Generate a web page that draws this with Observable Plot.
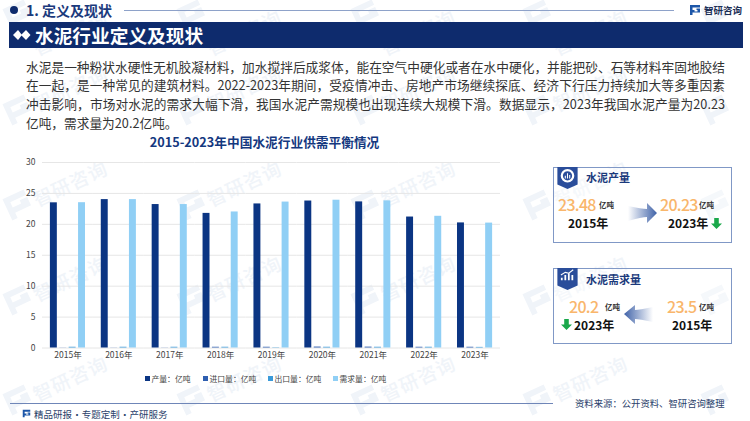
<!DOCTYPE html>
<html lang="zh"><head><meta charset="utf-8">
<script src="https://cdn.jsdelivr.net/npm/d3@7"></script>
<script src="https://cdn.jsdelivr.net/npm/@observablehq/plot@0.6"></script>
<style>
html,body{margin:0;padding:0;background:#fff}
#page{position:relative;width:750px;height:421px;overflow:hidden;font-family:"Noto Sans CJK SC","Noto Sans",sans-serif;color:#333}
.a{position:absolute;white-space:nowrap}
.wm{position:absolute;color:#f0f4f9;font-size:19px;line-height:24px;font-weight:500;letter-spacing:1px;transform:rotate(-25deg);white-space:nowrap}
.card{position:absolute;left:553px;width:177px;height:74px;border:1.2px solid #8098c6;background:rgba(255,255,255,.35)}
.num{color:#f9b66b;font-weight:500;font-size:16px;letter-spacing:-.7px;line-height:18px}
.unit{color:#333;font-weight:700;font-size:7.500px;line-height:10px}
.yr{color:#111;font-weight:700;font-size:12px;line-height:16px}
.leg{position:absolute;top:373px;font-size:7.800px;line-height:12px;color:#444;white-space:nowrap}
.leg i{display:inline-block;width:5px;height:5px;margin-right:1.500px;vertical-align:1px}
</style></head><body><div id="page"></div>
<script>
const years = ["2015年","2016年","2017年","2018年","2019年","2020年","2021年","2022年","2023年"];
const seriesNames = ["产量：亿吨","进口量：亿吨","出口量：亿吨","需求量：亿吨"];
const seriesColors = ["#0b3583","#2f5fb0","#3a9ad9","#90cff5"];
const production = [23.48,24.0,23.2,21.77,23.3,23.77,23.63,21.18,20.23];
const imports = [0.02,0.02,0.02,0.12,0.12,0.15,0.14,0.12,0.12];
const exports_ = [0.12,0.12,0.12,0.12,0.05,0.12,0.12,0.12,0.1];
const demand = [23.5,24.0,23.2,22.0,23.6,23.9,23.8,21.3,20.2];
const yTicks = [0,5,10,15,20,25,30];
const bodyLines = [
"水泥是一种粉状水硬性无机胶凝材料，加水搅拌后成浆体，能在空气中硬化或者在水中硬化，并能把砂、石等材料牢固地胶结",
"在一起，是一种常见的建筑材料。2022-2023年期间，受疫情冲击、房地产市场继续探底、经济下行压力持续加大等多重因素",
"冲击影响，市场对水泥的需求大幅下滑，我国水泥产需规模也出现连续大规模下滑。数据显示，2023年我国水泥产量为20.23",
"亿吨，需求量为20.2亿吨。"];

const page = document.getElementById("page");
function add(html){const t=document.createElement("template");t.innerHTML=html.trim();const n=t.content.firstChild;page.appendChild(n);return n;}
const logo=(x,y,s,c)=>`<svg class="a" style="left:${x}px;top:${y}px" width="${s}" height="${s}" viewBox="0 0 24 24"><path d="M2 2h20v5H7v5h8v-3h7v8H7v5H2z" fill="${c}"/><path d="M11 12h6v3h-6z" fill="#fff"/></svg>`;

// watermark
[15,110,205,300,400].forEach((cy,j)=>{
  [18,192,366,538,716].forEach((cx,i)=>{
    add(`<svg class="a" style="left:${cx-14}px;top:${cy-14}px;transform:rotate(-25deg)" width="28" height="28" viewBox="0 0 24 24"><path d="M2 2h20v5H7v5h8v-3h7v8H7v5H2z" fill="#f0f4f9"/></svg>`);
    if(i<4) add(`<div class="wm" style="left:${cx+12}px;top:${Math.max(cy-34,20)}px">智研咨询</div>`);
  });
});

// header
add(`<svg class="a" style="left:9px;top:5px" width="10" height="10"><circle cx="5" cy="5" r="4" fill="#0e2b6d"/></svg>`);
add(`<div class="a" style="left:26px;top:1px;font-size:14px;line-height:19px;font-weight:700;color:#1b3a7c">1. 定义及现状</div>`);
add(`<div class="a" style="left:124px;top:9.5px;width:550px;height:1px;background:#8ea2c9"></div>`);
page.insertAdjacentHTML("beforeend",logo(689,4,12,"#1c56a8"));
add(`<div class="a" style="left:704px;top:2px;font-size:9.500px;line-height:16px;font-weight:700;color:#1c2e55">智研咨询</div>`);
add(`<div class="a" style="left:9px;top:22px;width:734px;height:26px;background:#0e2b6d"></div>`);
add(`<svg class="a" style="left:13px;top:30px" width="18" height="10"><path d="M0 5 5 0 9 5 5 10z" fill="#fff"/><path d="M8 5 13 0 17.500 5 13 10z" fill="#fff"/></svg>`);
add(`<div class="a" style="left:35px;top:22px;font-size:18.700px;line-height:26px;font-weight:700;color:#fff">水泥行业定义及现状</div>`);

// body text
bodyLines.forEach((l,i)=>add(`<div class="a" style="left:26px;top:${56.500+i*18.7}px;${i<3?"width:699px;white-space:normal;text-align:justify;text-align-last:justify;":""}font-size:12.700px;line-height:19px;color:#333">${l}</div>`));

// chart title
add(`<div class="a" style="left:0;width:529px;text-align:center;top:133px;font-size:12.700px;line-height:18px;font-weight:700;color:#14387f">2015-2023年中国水泥行业供需平衡情况</div>`);

// chart
const rows = years.flatMap((y,i)=>[production,imports,exports_,demand].map((arr,k)=>({year:y,series:seriesNames[k],value:arr[i]})));
const chart = Plot.plot({
  width:510,height:214.5,marginLeft:42,marginRight:10,marginTop:7,marginBottom:22,
  style:{background:"transparent",fontFamily:'"Noto Sans CJK SC",sans-serif',fontSize:"8.500px",color:"#444"},
  fx:{domain:years,padding:0,label:null,axis:null,round:false},
  x:{domain:seriesNames,axis:null,paddingInner:0.26,paddingOuter:0.84,round:false},
  y:{domain:[0,30],ticks:yTicks,label:null},
  color:{domain:seriesNames,range:seriesColors},
  marks:[
    Plot.ruleY(yTicks,{stroke:"#e6e6e6",strokeWidth:1}),
    Plot.barY(rows,{fx:"year",x:"series",y:"value",fill:"series"}),
    Plot.axisY({ticks:yTicks,tickSize:0,tickPadding:7,label:null,anchor:"left",fontSize:8.500,facetAnchor:"left"}),
    Plot.axisFx({domain:years,anchor:"bottom",tickSize:0,tickPadding:4,label:null,fontSize:8.500})
  ]
});
chart.style.cssText+=";position:absolute;left:0;top:155px;";
page.appendChild(chart);

// legend
[[145,0],[203,1],[268,2],[333,3]].forEach(([x,k])=>add(`<div class="leg" style="left:${x}px"><i style="background:${seriesColors[k]}"></i>${seriesNames[k]}</div>`));

// cards
const badge=(y,inner)=>`<svg class="a" style="left:557px;top:${y}px" width="21" height="22" viewBox="0 0 23 25"><path d="M0 0h23v20l-11.500 5L0 20z" fill="#2a4d9a"/>${inner}</svg>`;
add(`<div class="card" style="top:167px"></div>`);
add(badge(167,`<circle cx="11.500" cy="10" r="6.500" fill="none" stroke="#fff" stroke-width="2.500"/><path d="M9 13v-3M11.500 13V7M14 13v-4" stroke="#fff" stroke-width="1.200"/>`));
add(`<div class="a" style="left:586px;top:168px;font-size:11px;line-height:18px;font-weight:700;color:#1b3a7c">水泥产量</div>`);
add(`<div class="a num" style="left:558px;top:195px">23.48</div>`);
add(`<div class="a unit" style="left:599px;top:200px">亿吨</div>`);
add(`<div class="a yr" style="left:568px;top:215px">2015年</div>`);
add(`<div class="a num" style="left:660px;top:195px">20.23</div>`);
add(`<div class="a unit" style="left:699px;top:200px">亿吨</div>`);
add(`<div class="a yr" style="left:668px;top:215px">2023年</div>`);
const green=(x,y)=>`<svg class="a" style="left:${x}px;top:${y}px" width="11" height="11" viewBox="0 0 12 12"><path d="M3.500 0h5v6H12L6 12 0 6h3.500z" fill="#1aa84a"/></svg>`;
add(green(711,218));
add(`<svg class="a" style="left:628px;top:203px" width="30" height="20" viewBox="0 0 30 20"><defs><linearGradient id="g1"><stop offset="0" stop-color="#fff"/><stop offset="1" stop-color="#3f62a8"/></linearGradient></defs><path d="M0 3q14 3 19 3V0l10 10-10 10v-6Q14 14 0 18z" fill="url(#g1)"/></svg>`);

add(`<div class="card" style="top:268px"></div>`);
add(badge(268,`<path d="M5 14v-3M9 14V8M13 14V6M17 14V8" stroke="#fff" stroke-width="2"/><path d="M4 8 9 5l4 1 5-4" fill="none" stroke="#fff" stroke-width="1.200"/>`));
add(`<div class="a" style="left:586px;top:270px;font-size:11px;line-height:18px;font-weight:700;color:#1b3a7c">水泥需求量</div>`);
add(`<div class="a num" style="left:569px;top:297px">20.2</div>`);
add(`<div class="a unit" style="left:605px;top:302px">亿吨</div>`);
add(green(561,319));
add(`<div class="a yr" style="left:574px;top:317px">2023年</div>`);
add(`<div class="a num" style="left:667px;top:297px">23.5</div>`);
add(`<div class="a unit" style="left:699px;top:302px">亿吨</div>`);
add(`<div class="a yr" style="left:672px;top:317px">2015年</div>`);
add(`<svg class="a" style="left:624px;top:305px" width="29" height="19" viewBox="0 0 29 19"><defs><linearGradient id="g2"><stop offset="0" stop-color="#3f62a8"/><stop offset="1" stop-color="#fff"/></linearGradient></defs><path d="M29 2Q15 5 11 5V0L0 9l11 10v-5q4 0 18 3z" fill="url(#g2)"/></svg>`);

// footer
add(`<div class="a" style="left:10px;top:403px;width:543px;height:1px;background:#6f86b8"></div>`);
page.insertAdjacentHTML("beforeend",logo(22,409,9,"#1c56a8"));
add(`<div class="a" style="left:34px;top:406px;font-size:9.500px;word-spacing:-2px;line-height:16px;color:#2b3f6b">精品研报 · 专题定制 · 产研服务</div>`);
add(`<div class="a" style="left:575px;top:395px;font-size:9.350px;line-height:16px;color:#2b3f6b">资料来源：公开资料、智研咨询整理</div>`);
</script></body></html>
